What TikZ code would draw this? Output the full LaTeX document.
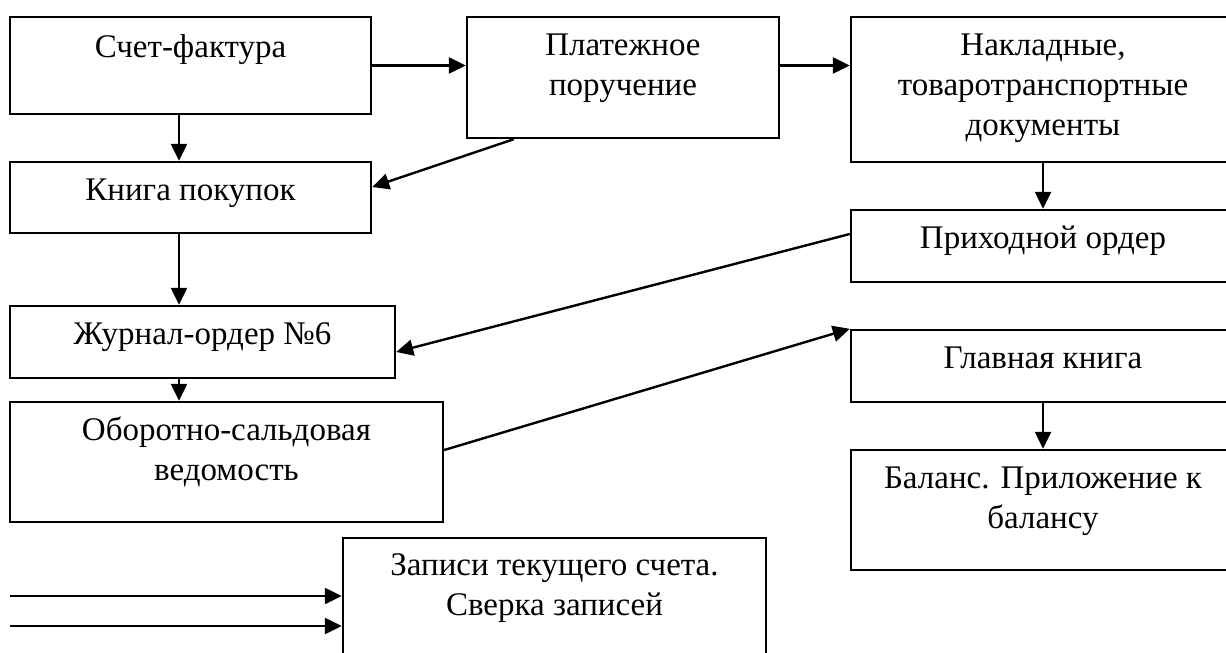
\documentclass[tikz,border=0pt]{standalone}
\usepackage{fontspec}
\setmainfont{Liberation Serif}
\usepackage{tikz}
\usetikzlibrary{calc}
\usetikzlibrary{arrows.meta}

\tikzset{
  box/.style={draw=black, line width=1.2pt, inner sep=0pt},
  txt/.style={font=\fontsize{16.5pt}{20pt}\selectfont, align=center, anchor=base, inner sep=0pt},
  arr/.style={line width=1.2pt, -{Triangle[length=8.5pt,width=8pt]}}
}

\begin{document}
\begin{tikzpicture}[x=0.5pt,y=-0.5pt]
        \useasboundingbox (0,0) rectangle (1226,653);
        \clip (0,0) rectangle (1226,653);

        % left column
        \node[box, minimum width=180.5pt, minimum height=48.5pt] (sf) at (190.5,65.5) {};
        \node[box, minimum width=180.5pt, minimum height=35.5pt] (kp) at (190.5,197.5) {};
        \node[box, minimum width=192.5pt, minimum height=36pt] (jo) at (202.5,342) {};
        \node[box, minimum width=216.5pt, minimum height=60pt] (os) at (226.5,462) {};
        % middle
        \node[box, minimum width=156pt, minimum height=60.5pt] (pp) at (623,77.5) {};
        \node[box, minimum width=211.5pt, minimum height=60pt] (zs) at (554.5,598) {};
        % right column
        \node[box, minimum width=192pt, minimum height=72.5pt] (nk) at (1043,89.5) {};
        \node[box, minimum width=192pt, minimum height=36pt] (po) at (1043,246) {};
        \node[box, minimum width=192pt, minimum height=36pt] (gk) at (1043,366) {};
        \node[box, minimum width=192pt, minimum height=60pt] (bl) at (1043,510) {};

        % texts (base = last line)
        \node[txt] (sftext) at ([yshift=-21pt]sf.north) {Счет-фактура};
        \node[txt] (kptext) at ([yshift=-20pt]kp.north) {Книга покупок};
        \node[txt] (jotext) at ([yshift=-20pt]jo.north) {Журнал-ордер №6};
        \node[txt] (ostext) at ([yshift=-40pt]os.north) {Оборотно-сальдовая\\ведомость};
        \node[txt] (pptext) at ([yshift=-40pt]pp.north) {Платежное\\поручение};
        \node[txt] (zstext) at ([yshift=-39.5pt]zs.north) {Записи текущего счета.\\Сверка записей};
        \node[txt] (nktext) at ([yshift=-60pt]nk.north) {Накладные,\\товаротранспортные\\документы};
        \node[txt] (potext) at ([yshift=-20pt]po.north) {Приходной ордер};
        \node[txt] (gktext) at ([yshift=-20pt]gk.north) {Главная книга};
        \node[txt] (bltext) at ([yshift=-40pt]bl.north) {Баланс. Приложение к\\балансу};

        % arrows
        \coordinate (axis) at (179,0);
        \draw[arr] (axis |- sf.south) -- (axis |- kp.north);
        \draw[arr] (axis |- kp.south) -- (axis |- jo.north);
        \draw[arr] (axis |- jo.south) -- (axis |- os.north);
        \draw[arr] (sf.east) -- (sf.east -| pp.west);
        \draw[arr] (sf.east -| pp.east) -- (sf.east -| nk.west);
        \draw[arr] (nk.south) -- (po.north);
        \draw[arr] (gk.south) -- (bl.north);
        \draw[arr] ([xshift=24pt]pp.south west) -- ([yshift=5.25pt]kp.east);
        \draw[arr] ([yshift=6pt]po.west) -- ([yshift=-5pt]jo.east);
        \draw[arr] ([yshift=6pt]os.east) -- (gk.north west);

        % inputs from the left
        \coordinate (in1) at (10,596);
        \coordinate (in2) at (10,626);
        \draw[arr] (in1) -- (in1 -| zs.west);
        \draw[arr] (in2) -- (in2 -| zs.west);
    \end{tikzpicture}
\end{document}
